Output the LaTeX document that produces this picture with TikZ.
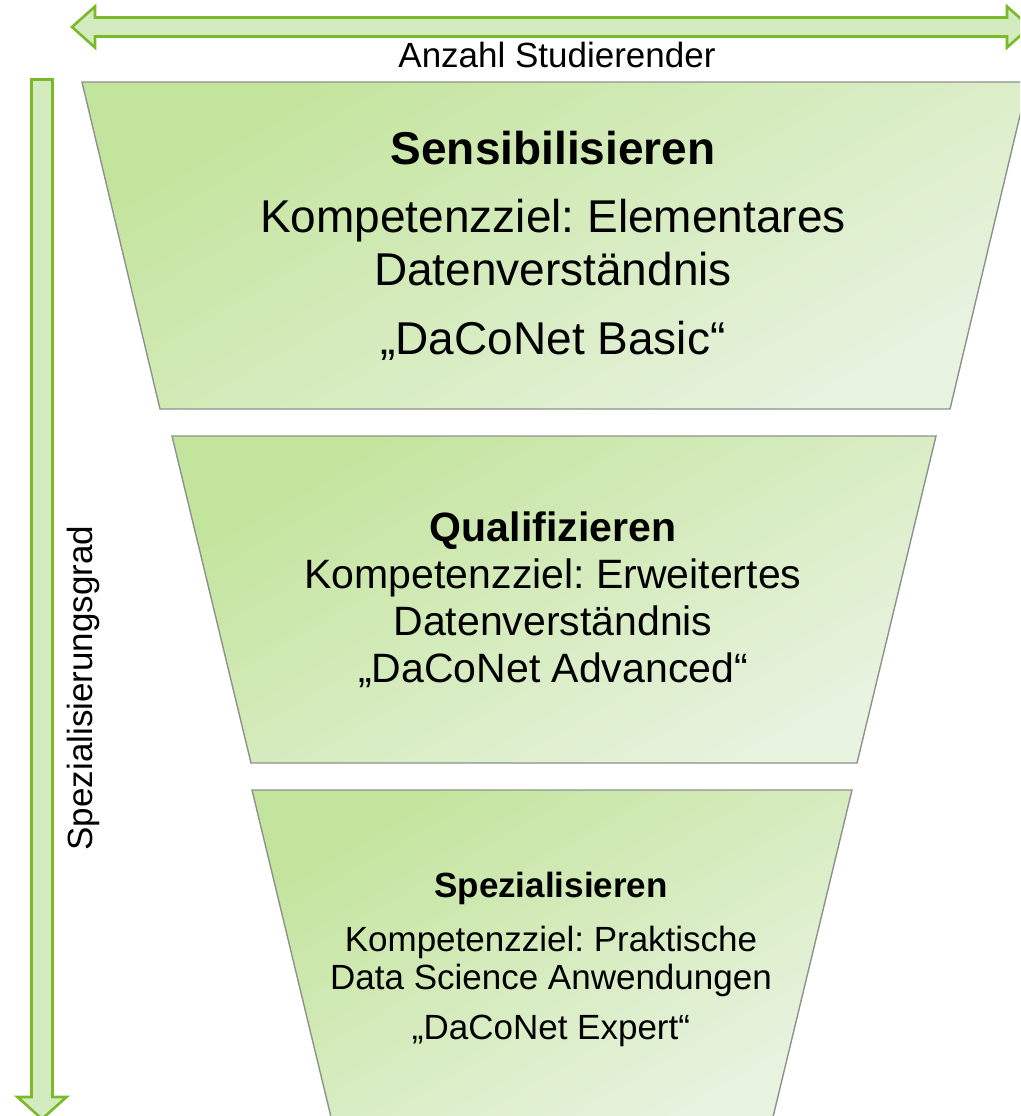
\documentclass[tikz,border=0pt]{standalone}
\usepackage{fontspec}
\setmainfont{Liberation Sans}
\usepackage{tikz}
\usepackage{xcolor}
\usetikzlibrary{positioning}
\definecolor{LeafGreen}{HTML}{7AB929}
\definecolor{ArrowFill}{HTML}{D3EBBE}
\definecolor{StageDark}{HTML}{C3E49C}
\definecolor{StagePale}{HTML}{E8F3E0}
\definecolor{StageEdge}{HTML}{8E928A}
\frenchspacing
\tikzset{
  axisarrow/.style={draw=LeafGreen, line width=2.6pt, fill=ArrowFill, line join=miter},
  stage/.style={draw=StageEdge, line width=1.4pt, top color=StageDark,
                bottom color=StagePale, shading angle=30},
  stagetext/.style={align=center, inner sep=0pt},
  axislabel/.style={font=\fontsize{35}{40}\selectfont, inner sep=0pt}
}

\begin{document}
\begin{tikzpicture}[x=1pt, y=-1pt]
\clip (0,0) rectangle (1020,1116);
% axis arrows
\draw[axisarrow] (72,27) -- (95,6.5) -- (95,17.5) -- (1007,17.5) -- (1007,6.5)
    -- (1030,27) -- (1007,47.5) -- (1007,36.5) -- (95,36.5) -- (95,47.5) -- cycle;
\draw[axisarrow] (31.5,79.5) -- (52.5,79.5) -- (52.5,1097) -- (66.5,1097)
    -- (42,1119) -- (17.5,1097) -- (31.5,1097) -- cycle;
\node[axislabel] (breadth) at (557,55) {Anzahl Studierender};
\node[axislabel, rotate=90] (depth) at (83,688) {Spezialisierungsgrad};

% funnel stages
\draw[stage] (82,82) -- (1028,82) -- (950,409) -- (160,409) -- cycle;
\draw[stage] (172,436) -- (936,436) -- (857,763) -- (251,763) -- cycle;
\draw[stage] (252,790) -- (852,790) -- (773,1117) -- (331,1117) -- cycle;

\node[stagetext, font=\fontsize{46}{53}\selectfont] (sens) at (553,246) {
    \textbf{Sensibilisieren}\\[15pt]
    Kompetenzziel: Elementares\\
    Datenverständnis\\[16pt]
    „DaCoNet Basic“
};
\node[stagetext, font=\fontsize{41}{47}\selectfont] (qual) at (553,600) {
    \textbf{Qualifizieren}\\
    Kompetenzziel: Erweitertes\\
    Datenverständnis\\
    „DaCoNet Advanced“
};
\node[stagetext, font=\fontsize{35}{40}\selectfont] (spez) at (551,959) {
    \textbf{Spezialisieren}\\[14pt]
    Kompetenzziel: Praktische\\[-2pt]
    Data Science Anwendungen\\[10pt]
    „DaCoNet Expert“
};
\end{tikzpicture}
\end{document}
